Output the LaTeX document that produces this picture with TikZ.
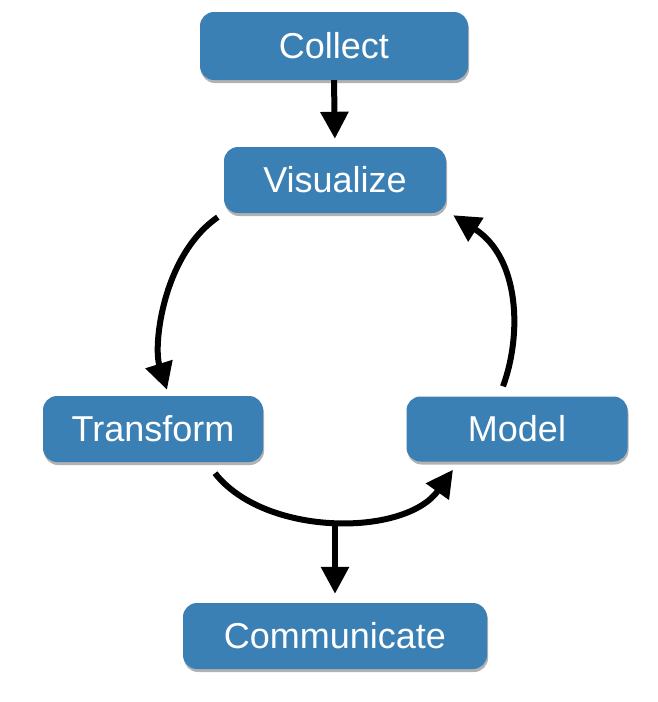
\documentclass[tikz,border=0pt]{standalone}
\usepackage{fontspec}
\setmainfont{Liberation Sans}
\usetikzlibrary{arrows.meta,shadows,calc}
\definecolor{boxblue}{RGB}{58,128,180}
\begin{document}
\begin{tikzpicture}[x=1pt,y=-1pt,
  box/.style={fill=boxblue, rounded corners=14pt, text=white,
    font=\fontsize{36}{40}\selectfont, inner sep=0pt,
    drop shadow={shadow xshift=1pt, shadow yshift=-3pt, opacity=0.3, fill=black}},
  conn/.style={line width=6pt, -{Triangle[width=27pt,length=27pt]}}]
\useasboundingbox (0,0) rectangle (658,702);
\node[box, minimum width=268pt, minimum height=68pt] (col) at (334,46) {Collect};
\node[box, minimum width=222pt, minimum height=66pt] (vis) at (335,180) {Visualize};
\node[box, minimum width=220pt, minimum height=66pt] (trans) at (153,429) {Transform};
\node[box, minimum width=221pt, minimum height=65pt] (model) at (517,429) {Model};
\node[box, minimum width=304pt, minimum height=66pt] (com) at (335,636) {Communicate};
\coordinate (mid) at (335,523);
\draw[conn, shorten >=8pt] (col.south) -- (vis.north);
\draw[conn] ($(vis.south west)+(-6,4)$) .. controls (163,255) and (153,345) .. ($(trans.north)+(14,-6)$);
\draw[conn] ($(model.north)+(-14,-10)$) .. controls (522,335) and (520,258) .. ($(vis.south east)+(7,2)$);
\draw[conn] ($(trans.south)+(62,11)$) .. controls (265,537) and (405,537) .. ($(model.south)+(-64,8)$);
\draw[conn, shorten >=9pt] (mid) -- (com.north);
\end{tikzpicture}
\end{document}
